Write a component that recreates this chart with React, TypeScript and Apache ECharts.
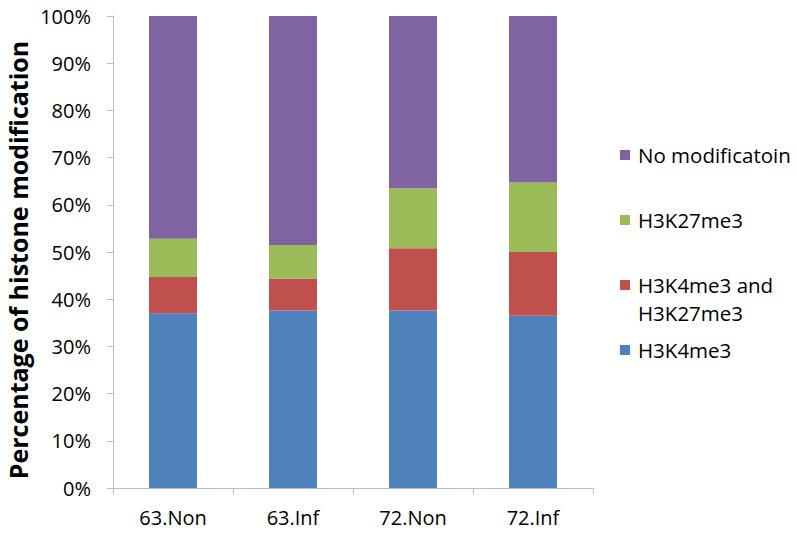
import React, { useEffect, useRef } from "react";
import * as echarts from "echarts";

const categories = ["63.Non", "63.Inf", "72.Non", "72.Inf"];
const h3k4me3 = [37.0, 37.6, 37.6, 36.5];
const both = [7.7, 6.8, 13.2, 13.5];
const h3k27me3 = [8.1, 7.1, 12.7, 14.7];
const noMod = [47.2, 48.5, 36.5, 35.3];
const yTicks = [0, 10, 20, 30, 40, 50, 60, 70, 80, 90, 100];
const yTitle = "Percentage of histone modification";

const FONT = "'Open Sans', sans-serif";

export default function App() {
  const ref = useRef<HTMLDivElement>(null);
  useEffect(() => {
    if (!ref.current) return;
    const chart = echarts.init(ref.current, undefined, { renderer: "svg" });
    const legendText = { fontFamily: FONT, fontSize: 20.5, color: "#000", lineHeight: 26, padding: [0, 0, 0, 3] };
    const mkLegend = (name: string, centerY: number, fmt?: string) => ({
      show: true,
      data: [name],
      left: 620,
      top: centerY - 13,
      padding: 0,
      itemWidth: 10,
      itemHeight: 10,
      icon: "rect",
      selectedMode: false,
      formatter: fmt ? () => fmt : undefined,
      textStyle: legendText,
    });
    const barBase = {
      type: "bar" as const,
      stack: "total",
      barWidth: 48,
    };
    chart.setOption({
      animation: false,
      grid: { left: 113, right: 205, top: 16, bottom: 45, containLabel: false },
      legend: [
        mkLegend("No modificatoin", 155),
        mkLegend("H3K27me3", 220),
        mkLegend("H3K4me3 and H3K27me3", 285, "H3K4me3 and"),
        mkLegend("H3K4me3", 350),
      ],
      graphic: [
        {
          type: "text",
          left: 638,
          top: 302,
          style: { text: "H3K27me3", font: `20.5px ${FONT}`, fill: "#000" },
        },
        {
          type: "text",
          x: 18,
          y: 260,
          rotation: Math.PI / 2,
          style: {
            text: yTitle,
            font: `bold 25px ${FONT}`,
            fill: "#000",
            align: "center",
            verticalAlign: "middle",
          },
        },
      ],
      xAxis: {
        type: "category",
        data: categories,
        axisLine: { lineStyle: { color: "#BFBFBF", width: 1 } },
        axisTick: { show: true, length: 6, lineStyle: { color: "#BFBFBF" } },
        axisLabel: { fontFamily: FONT, fontSize: 20, color: "#000", margin: 19 },
      },
      yAxis: {
        type: "value",
        min: yTicks[0],
        max: yTicks[yTicks.length - 1],
        interval: 10,
        splitLine: { show: false },
        axisLine: { show: true, lineStyle: { color: "#BFBFBF", width: 1 } },
        axisTick: { show: true, length: 6, lineStyle: { color: "#BFBFBF" } },
        axisLabel: { fontFamily: FONT, fontSize: 20, color: "#000", margin: 22, formatter: "{value}%" },
      },
      series: [
        { ...barBase, name: "H3K4me3", data: h3k4me3, itemStyle: { color: "#4F81BD" } },
        { ...barBase, name: "H3K4me3 and H3K27me3", data: both, itemStyle: { color: "#C0504D" } },
        { ...barBase, name: "H3K27me3", data: h3k27me3, itemStyle: { color: "#9BBB59" } },
        { ...barBase, name: "No modificatoin", data: noMod, itemStyle: { color: "#8064A2" } },
      ],
    });
    return () => chart.dispose();
  }, []);
  return <div ref={ref} style={{ width: 798, height: 533, margin: -8 }} />;
}
